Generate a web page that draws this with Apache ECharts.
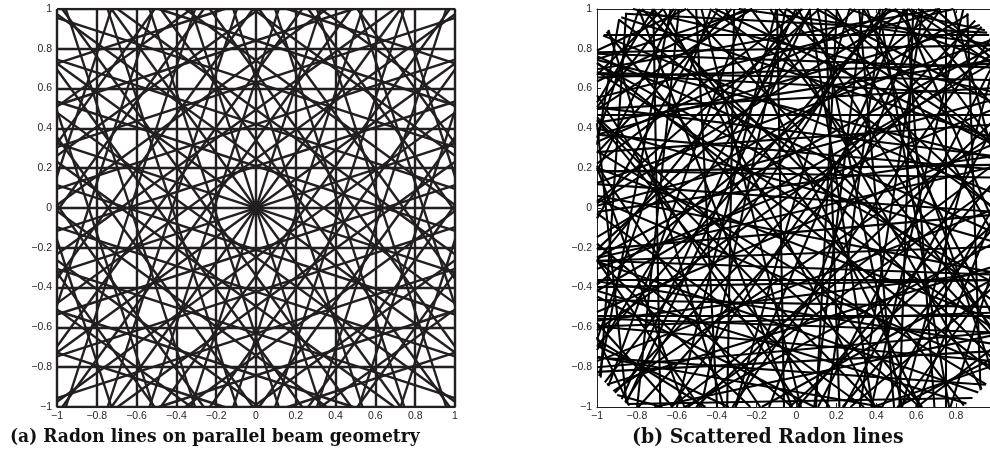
<!DOCTYPE html>
<html><head><meta charset="utf-8">
<script src="https://cdn.jsdelivr.net/npm/echarts@6/dist/echarts.min.js"></script>
<style>html,body{margin:0;padding:0;background:#fff}#c{width:990px;height:459px}</style>
</head><body><div id="c"></div>
<script>
// ---- data ----
const anglesDeg = [0, 18, 36, 54, 72, 90, 108, 126, 144, 162];          // parallel-beam directions
const offsets = [-1, -0.8, -0.6, -0.4, -0.2, 0, 0.2, 0.4, 0.6, 0.8, 1]; // detector offsets
const tickValues = [-1, -0.8, -0.6, -0.4, -0.2, 0, 0.2, 0.4, 0.6, 0.8, 1];
const tickLabels = ['\u22121', '\u22120.8', '\u22120.6', '\u22120.4', '\u22120.2', '0', '0.2', '0.4', '0.6', '0.8', '1'];
const captionA = '(a) Radon lines on parallel beam geometry';
const captionB = '(b) Scattered Radon lines';
const scatterRadius = 1.3;
// scattered lines: [normal angle in degrees, signed offset]
const scatteredLines = [
  [90,0.87],[91,0.80],[88,0.74],[92,0.69],[89,0.66],[87,0.62],[93,0.55],[90,0.47],[91,0.20],[89,0.17],
  [92,-0.23],[88,-0.30],[90,-0.36],[91,-0.38],[89,-0.48],[90,-0.54],[92,-0.56],[88,-0.59],[93,-0.77],[86,-0.82],
  [91,-0.97],[87,0.93],[94,0.35],[86,0.05],[95,-0.12],[85,-0.68],
  [1,-0.70],[3,-0.45],[179,0.33],[2,0.89],[0,0.75],[4,0.62],[177,-0.15],[1,-0.08],[5,0.40],[176,0.92],[2,0.18],[178,-0.55],
  [12,0.31],[17,-0.64],[23,0.88],[28,-0.12],[31,0.52],[35,-0.97],[38,0.05],[41,1.08],[44,-0.41],[47,0.67],
  [50,-0.78],[53,0.22],[56,1.15],[59,-0.27],[62,0.93],[65,-1.05],[68,0.44],[71,-0.58],[74,0.11],[77,0.79],
  [80,-0.91],[83,0.38],[99,0.58],[102,-0.83],[105,0.27],[108,1.02],[111,-0.36],[114,0.71],[117,-1.12],[120,0.14],
  [123,0.96],[126,-0.49],[129,0.33],[132,-0.72],[135,1.18],[138,-0.08],[141,0.61],[144,-1.01],[147,0.19],[150,0.84],
  [153,-0.55],[156,0.41],[159,-0.23],[162,1.06],[165,-0.77],[168,0.26],[171,-0.47],[174,0.69],
  [8,1.12],[14,-0.22],[19,0.66],[25,-1.18],[29,0.37],[33,-0.53],[36,0.99],[40,-0.16],[43,0.28],[46,-0.88],
  [49,1.21],[52,-0.04],[55,0.57],[58,-1.09],[61,0.15],[64,0.72],[67,-0.35],[70,1.03],[73,-0.69],[76,0.48],
  [79,-0.13],[82,0.95],[97,-0.44],[100,0.86],[103,-0.02],[106,0.63],[109,-1.07],[112,0.09],[115,1.14],[118,-0.62],
  [121,0.39],[124,-0.25],[127,0.78],[130,-0.94],[133,0.53],[136,0.01],[139,-0.66],[142,1.10],[145,-0.31],[148,0.47],
  [151,-0.86],[154,0.98],[157,-0.11],[160,0.58],[163,-1.03],[166,0.34],[169,0.81],[172,-0.29],[175,1.17],
  [6,-0.95],[10,0.58],[15,1.02],[21,-0.38],[26,0.12],[30,0.79],[34,-0.71],[37,0.42],[42,-1.13],[45,0.16],
  [48,-0.33],[51,0.87],[54,-0.61],[57,0.03],[60,1.17],[63,-0.85],[66,0.29],[69,-0.17],[72,0.64],[75,-1.14],
  [78,1.07],[81,-0.52],[98,0.12],[101,-1.19],[104,0.78],[107,-0.57],[110,0.46],[113,-0.09],[116,1.01],[119,-0.79],
  [122,0.55],[125,0.07],[128,-1.16],[131,0.68],[134,-0.37],[137,0.92],[140,-0.82],[143,0.24],[146,-0.04],[149,1.13],
  [152,-0.68],[155,0.36],[158,-0.93],[161,0.73],[164,0.02],[167,-0.59],[170,1.04],[173,-0.21],
  [9,0.22],[20,-0.87],[27,0.63],[39,-0.50],[57,0.81],[85,0.28],[95,-0.71],[118,0.25],[127,-0.42],[139,0.30]
];

// ---- geometry: line x cos(t) + y sin(t) = s, clipped to the square (and optional disc) ----
function clipLine(thetaDeg, s, radius) {
  const t = thetaDeg * Math.PI / 180, c = Math.cos(t), sn = Math.sin(t);
  const px = s * c, py = s * sn, dx = -sn, dy = c;
  let lo = -10, hi = 10;
  const dims = [[px, dx], [py, dy]];
  for (const [p, d] of dims) {
    if (Math.abs(d) < 1e-12) { if (p < -1 - 1e-9 || p > 1 + 1e-9) return null; continue; }
    let a = (-1 - p) / d, b = (1 - p) / d;
    if (a > b) [a, b] = [b, a];
    lo = Math.max(lo, a); hi = Math.min(hi, b);
  }
  if (radius) {
    const h2 = radius * radius - s * s;
    if (h2 <= 0) return null;
    const h = Math.sqrt(h2);
    lo = Math.max(lo, -h); hi = Math.min(hi, h);
  }
  if (hi <= lo) return null;
  return { coords: [[px + lo * dx, py + lo * dy], [px + hi * dx, py + hi * dy]] };
}

const parallelData = [];
anglesDeg.forEach(a => offsets.forEach(s => { const l = clipLine(a, s, 0); if (l) parallelData.push(l); }));
const scatteredData = [];
scatteredLines.forEach(([a, s]) => { const l = clipLine(a, s, scatterRadius); if (l) scatteredData.push(l); });

// ---- chart ----
const labelFmt = v => { const i = tickValues.findIndex(t => Math.abs(t - v) < 1e-6); return i >= 0 ? tickLabels[i] : ''; };
const axisCommon = {
  type: 'value', min: -1, max: 1, interval: 0.2,
  splitLine: { show: false },
  axisLine: { show: true, onZero: false, lineStyle: { color: '#231f20', width: 1 } },
  axisTick: { show: true, inside: true, length: 4, lineStyle: { color: '#231f20', width: 1 } }
};
const labelStyle = { color: '#231f20', fontFamily: 'Liberation Sans', fontSize: 10.5, formatter: labelFmt };
function axesFor(grid) {
  return {
    x: [
      Object.assign({}, axisCommon, { gridIndex: grid, position: 'bottom', axisLabel: Object.assign({ margin: 4 }, labelStyle) }),
      Object.assign({}, axisCommon, { gridIndex: grid, position: 'top', axisLabel: { show: false } })
    ],
    y: [
      Object.assign({}, axisCommon, { gridIndex: grid, position: 'left', axisLabel: Object.assign({ margin: 5 }, labelStyle) }),
      Object.assign({}, axisCommon, { gridIndex: grid, position: 'right', axisLabel: { show: false } })
    ]
  };
}
const a0 = axesFor(0), a1 = axesFor(1);
const capFont = { fontFamily: 'DejaVu Serif Condensed, DejaVu Serif', fontWeight: 'bold', color: '#111' };

const chart = echarts.init(document.getElementById('c'), null, { renderer: 'canvas' });
chart.setOption({
  animation: false,
  backgroundColor: '#fff',
  grid: [
    { left: 57, top: 9, width: 398, height: 398, outerBoundsMode: 'none', containLabel: false },
    { left: 597, top: 9, width: 399, height: 398, outerBoundsMode: 'none', containLabel: false }
  ],
  xAxis: [...a0.x, ...a1.x],
  yAxis: [...a0.y, ...a1.y],
  title: [
    { text: captionA, left: 10, top: 428, padding: 0, textStyle: Object.assign({ fontSize: 19 }, capFont) },
    { text: captionB, left: 632, top: 427, padding: 0, textStyle: Object.assign({ fontSize: 21 }, capFont) }
  ],
  series: [
    { type: 'lines', coordinateSystem: 'cartesian2d', xAxisIndex: 0, yAxisIndex: 0, silent: true,
      data: parallelData, lineStyle: { color: '#231f20', width: 2.4, opacity: 1 } },
    { type: 'lines', coordinateSystem: 'cartesian2d', xAxisIndex: 2, yAxisIndex: 2, silent: true,
      data: scatteredData, lineStyle: { color: '#000', width: 2.1, opacity: 1 } }
  ]
});
</script></body></html>
